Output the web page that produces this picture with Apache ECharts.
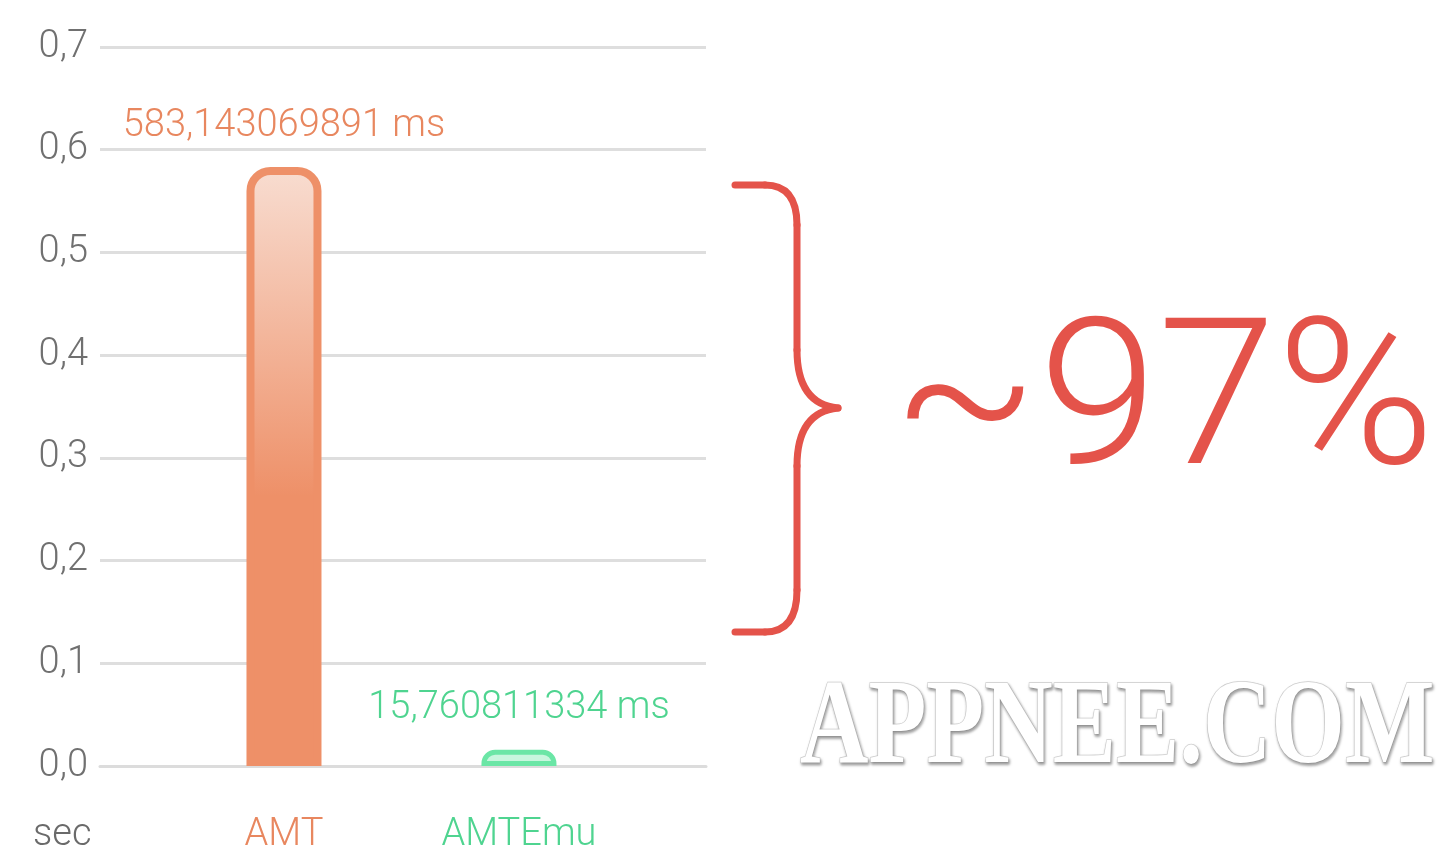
<!DOCTYPE html>
<html>
<head>
<meta charset="utf-8">
<script src="https://cdn.jsdelivr.net/npm/echarts@6/dist/echarts.min.js"></script>
<style>
  html, body { margin: 0; padding: 0; background: #fff; }
  #main { width: 1447px; height: 864px; }
</style>
</head>
<body>
<div id="main"></div>
<script>
// data
var categories = ['AMT', 'AMTEmu'];
var seconds = [0.583143069891, 0.015760811334];
var yTicks = [0, 0.1, 0.2, 0.3, 0.4, 0.5, 0.6, 0.7];
var barColors = ['#ee9068', '#6be6a6'];
var textColors = ['#e8875f', '#4fd490'];
var unitLabel = 'sec';
var bigText = '~97%';
var watermark = 'APPNEE.COM';

var chart = echarts.init(document.getElementById('main'));

var fill = [
  new echarts.graphic.LinearGradient(0, 0, 0, 1, [
    {offset: 0, color: '#f8ddd1'},
    {offset: 0.55, color: '#ee9068'},
    {offset: 1, color: '#ee9068'}
  ]),
  '#c8f6de'
];
var borderW = [8, 5];

var barData = seconds.map(function (v, i) {
  return {
    value: [i, v],
    itemStyle: {
      color: fill[i],
      borderColor: barColors[i],
      borderWidth: borderW[i],
      borderRadius: [20, 20, 0, 0]
    },
    label: {color: textColors[i]}
  };
});

// brace, drawn as straight and curved pieces
var braceStyle = {stroke: '#e4534a', lineWidth: 7, fill: null, lineCap: 'round'};
function seg(x1, y1, x2, y2) {
  return {type: 'line', shape: {x1: x1, y1: y1, x2: x2, y2: y2}, style: braceStyle};
}
function curve(x1, y1, cx, cy, x2, y2) {
  return {type: 'bezierCurve', shape: {x1: x1, y1: y1, cpx1: cx, cpy1: cy, x2: x2, y2: y2}, style: braceStyle};
}
var brace = {
  type: 'group',
  children: [
    seg(735, 185, 765, 185),
    curve(765, 185, 797, 185, 797, 225),
    seg(797, 225, 797, 350),
    curve(797, 350, 797, 404, 838, 408),
    curve(838, 408, 797, 412, 797, 466),
    seg(797, 466, 797, 590),
    curve(797, 590, 797, 632, 765, 632),
    seg(765, 632, 735, 632)
  ]
};

var option = {
  animation: false,
  textStyle: {fontFamily: 'Roboto', fontWeight: 300},
  grid: {left: 100, right: 741, top: 47, bottom: 98},
  xAxis: {
    type: 'value',
    min: -0.783,
    max: 1.796,
    splitLine: {show: false},
    axisTick: {show: false},
    axisLine: {show: true, lineStyle: {color: '#dcdcdc', width: 3}},
    axisLabel: {
      customValues: [0, 1],
      margin: 50,
      fontSize: 38,
      fontFamily: 'Roboto',
      fontWeight: 300,
      formatter: function (v) {
        var i = Math.round(v);
        return '{c' + i + '|' + categories[i] + '}';
      },
      rich: {
        c0: {color: textColors[0], fontSize: 38, fontFamily: 'Roboto', fontWeight: 300},
        c1: {color: textColors[1], fontSize: 38, fontFamily: 'Roboto', fontWeight: 300}
      }
    }
  },
  yAxis: {
    type: 'value',
    min: yTicks[0],
    max: yTicks[yTicks.length - 1],
    interval: 0.1,
    axisLine: {show: false},
    axisTick: {show: false},
    splitLine: {lineStyle: {color: '#dedede', width: 3}},
    axisLabel: {
      margin: 12,
      color: '#707070',
      fontSize: 38,
      fontFamily: 'Roboto',
      fontWeight: 300,
      formatter: function (v) { return v.toFixed(1).replace('.', ','); }
    }
  },
  series: [{
    type: 'bar',
    barWidth: 75,
    data: barData,
    label: {
      show: true,
      position: 'top',
      distance: 22,
      fontSize: 38,
      fontFamily: 'Roboto',
      fontWeight: 300,
      formatter: function (p) {
        return (p.value[1] * 1000).toFixed(9).replace('.', ',') + ' ms';
      }
    }
  }],
  graphic: [
    {
      type: 'text',
      x: 33,
      y: 835,
      style: {text: unitLabel, fill: '#6a6a6a', font: '300 38px Roboto', textVerticalAlign: 'middle'}
    },
    brace,
    {
      type: 'group',
      x: 892,
      y: 412,
      scaleX: 1.045,
      scaleY: 1,
      children: [{
        type: 'text',
        style: {
          text: bigText,
          fill: '#e4534a',
          font: '300 205px Roboto',
          textVerticalAlign: 'middle'
        }
      }]
    },
    {
      type: 'group',
      x: 800,
      y: 731,
      scaleX: 0.79,
      scaleY: 1,
      children: [{
        type: 'text',
        style: {
          text: watermark,
          fill: '#ffffff',
          stroke: '#cfcfcf',
          lineWidth: 1.5,
          font: 'bold 120px "Liberation Serif"',
          textVerticalAlign: 'middle',
          textShadowColor: 'rgba(0,0,0,0.35)',
          textShadowBlur: 3,
          textShadowOffsetX: 1,
          textShadowOffsetY: 2
        }
      }]
    }
  ]
};

chart.setOption(option);
</script>
</body>
</html>
